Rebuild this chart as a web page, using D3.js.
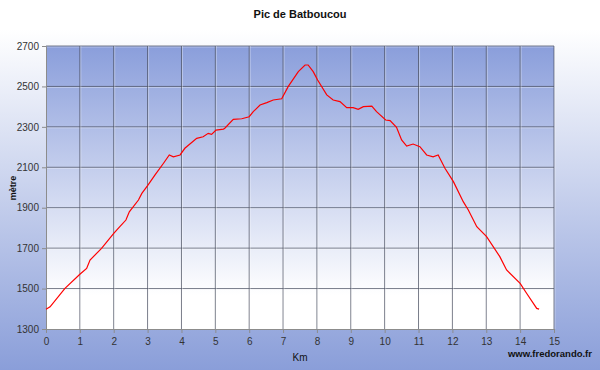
<!DOCTYPE html>
<html>
<head>
<meta charset="utf-8">
<title>Pic de Batboucou</title>
<style>
  body { margin: 0; }
  svg { display: block; font-family: "Liberation Sans", Arial, sans-serif; }
</style>
</head>
<body>
<div id="chart"></div>
<script src="https://d3js.org/d3.v7.min.js"></script>
<script>
// profile: distance (km) and altitude (m)
const km = [0, 0.12, 0.56, 1.0, 1.2, 1.3, 1.64, 2.0, 2.18, 2.36, 2.46, 2.73, 2.83, 3.0,
  3.22, 3.47, 3.64, 3.76, 3.96, 4.1, 4.45, 4.64, 4.79, 4.89, 5.02, 5.24, 5.28, 5.53,
  5.78, 6.0, 6.12, 6.32, 6.52, 6.71, 6.96, 7.15, 7.45, 7.65, 7.74, 7.89, 8.02, 8.29,
  8.48, 8.68, 8.88, 9.07, 9.22, 9.37, 9.62, 9.76, 10.03, 10.16, 10.35, 10.5, 10.65,
  10.84, 11.04, 11.24, 11.43, 11.58, 11.78, 12.03, 12.32, 12.47, 12.72, 13.01, 13.4,
  13.6, 14.0, 14.19, 14.49, 14.56];
const metre = [1398, 1410, 1501, 1571, 1600, 1641, 1699, 1773, 1806, 1839, 1880, 1938, 1971, 2009,
  2062, 2120, 2161, 2152, 2161, 2194, 2243, 2251, 2268, 2263, 2284, 2289, 2293, 2337,
  2340, 2350, 2375, 2408, 2420, 2433, 2439, 2499, 2573, 2606, 2606, 2573, 2532, 2458,
  2433, 2425, 2395, 2395, 2387, 2400, 2403, 2375, 2334, 2331, 2298, 2235, 2205,
  2215, 2202, 2161, 2152, 2161, 2095, 2029, 1930, 1889, 1806, 1757, 1658,
  1592, 1526, 1477, 1402, 1398];
const xTicks = d3.range(0, 16, 1);
const yTicks = [1300, 1500, 1700, 1900, 2100, 2300, 2500, 2700];

const W = 600, H = 370;
const m = { top: 46, right: 46, bottom: 41, left: 46 };

const svg = d3.select("#chart").append("svg")
  .attr("width", W).attr("height", H);

const defs = svg.append("defs");
const outer = defs.append("linearGradient").attr("id", "outerGrad")
  .attr("x1", 0).attr("y1", 0).attr("x2", 0).attr("y2", 1);
outer.append("stop").attr("offset", "0.08").attr("stop-color", "#ffffff");
outer.append("stop").attr("offset", "1").attr("stop-color", "#8a9ed9");

const inner = defs.append("linearGradient").attr("id", "innerGrad")
  .attr("x1", 0).attr("y1", 0).attr("x2", 0).attr("y2", 1);
inner.append("stop").attr("offset", "0").attr("stop-color", "#8a9edb");
inner.append("stop").attr("offset", "0.88").attr("stop-color", "#ffffff");
inner.append("stop").attr("offset", "1").attr("stop-color", "#ffffff");

svg.append("rect").attr("width", W).attr("height", H).attr("fill", "url(#outerGrad)");

const x = d3.scaleLinear().domain([0, 15]).range([m.left, W - m.right]);
const y = d3.scaleLinear().domain([1300, 2700]).range([H - m.bottom, m.top]);

svg.append("rect")
  .attr("x", x(0)).attr("y", y(2700))
  .attr("width", x(15) - x(0)).attr("height", y(1300) - y(2700))
  .attr("fill", "url(#innerGrad)");

// grid
const grid = svg.append("g");
grid.selectAll("line.h").data(yTicks.slice(1)).enter().append("line")
  .attr("x1", x(0)).attr("x2", x(15))
  .attr("y1", d => y(d)).attr("y2", d => y(d))
  .attr("stroke", "#4a4f60").attr("stroke-opacity", 0.75).attr("stroke-width", 1);
grid.selectAll("line.hs").data(yTicks.slice(1)).enter().append("line")
  .attr("x1", x(0)).attr("x2", x(15))
  .attr("y1", d => y(d) + 1).attr("y2", d => y(d) + 1)
  .attr("stroke", "#ffffff").attr("stroke-opacity", 0.35);
grid.selectAll("line.v").data(xTicks.slice(1)).enter().append("line")
  .attr("x1", d => x(d)).attr("x2", d => x(d))
  .attr("y1", y(2700)).attr("y2", y(1300))
  .attr("stroke", "#4a4f60").attr("stroke-opacity", 0.75);
grid.selectAll("line.vs").data(xTicks.slice(1)).enter().append("line")
  .attr("x1", d => x(d) + 1).attr("x2", d => x(d) + 1)
  .attr("y1", y(2700)).attr("y2", y(1300))
  .attr("stroke", "#ffffff").attr("stroke-opacity", 0.35);

// axes
const yAxis = svg.append("g")
  .attr("transform", `translate(${x(0)},0)`)
  .call(d3.axisLeft(y).tickValues(yTicks).tickFormat(d3.format("d")).tickSize(4).tickPadding(3));
const xAxis = svg.append("g")
  .attr("transform", `translate(0,${y(1300)})`)
  .call(d3.axisBottom(x).tickValues(xTicks).tickFormat(d3.format("d")).tickSize(4).tickPadding(5));
[yAxis, xAxis].forEach(a => {
  a.select(".domain").attr("stroke", "#8c8c8c");
  a.selectAll(".tick line").attr("stroke", "#8c8c8c");
  a.selectAll(".tick text").attr("fill", "#333").attr("font-size", "10px")
    .attr("font-family", "Liberation Sans, Arial, sans-serif");
});

// profile line
const line = d3.line().x((d, i) => x(km[i])).y(d => y(d));
svg.append("path").datum(metre)
  .attr("d", line)
  .attr("fill", "none").attr("stroke", "#ff0000").attr("stroke-width", 1.2);

// texts
svg.append("text").attr("x", 300).attr("y", 18)
  .attr("text-anchor", "middle").attr("font-size", "11px").attr("font-weight", "bold")
  .attr("fill", "#111").text("Pic de Batboucou");
svg.append("text").attr("transform", "translate(16,188) rotate(-90)")
  .attr("text-anchor", "middle").attr("font-size", "9px").attr("font-weight", "bold")
  .attr("fill", "#111").text("mètre");
svg.append("text").attr("x", 300).attr("y", 361)
  .attr("text-anchor", "middle").attr("font-size", "10px")
  .attr("fill", "#111").text("Km");
svg.append("text").attr("x", 592).attr("y", 357)
  .attr("text-anchor", "end").attr("font-size", "9.5px").attr("font-weight", "bold")
  .attr("fill", "#111").text("www.fredorando.fr");
</script>
</body>
</html>
